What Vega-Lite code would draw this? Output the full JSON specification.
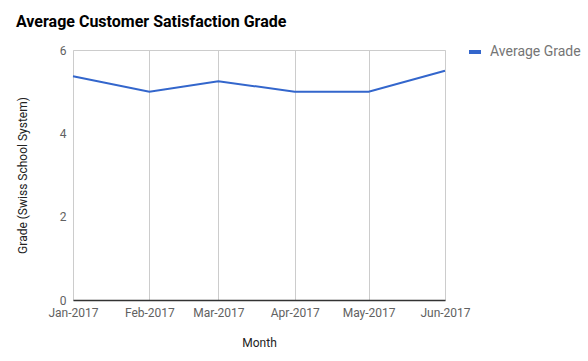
{
  "$schema": "https://vega.github.io/schema/vega-lite/v6.json",
  "width": 372,
  "height": 250,
  "autosize": {"type": "none"},
  "padding": {"left": 73, "top": 50, "right": 143, "bottom": 61},
  "background": "white",
  "title": {
    "text": "Average Customer Satisfaction Grade",
    "anchor": "start",
    "frame": "group",
    "dx": -57,
    "offset": 14,
    "font": "Roboto",
    "fontSize": 16,
    "fontWeight": "bold",
    "color": "#000000"
  },
  "data": {
    "values": [
      {"Month": "2017-01-01", "Grade": 5.37, "Series": "Average Grade"},
      {"Month": "2017-02-01", "Grade": 5.0, "Series": "Average Grade"},
      {"Month": "2017-03-01", "Grade": 5.25, "Series": "Average Grade"},
      {"Month": "2017-04-01", "Grade": 5.0, "Series": "Average Grade"},
      {"Month": "2017-05-01", "Grade": 5.0, "Series": "Average Grade"},
      {"Month": "2017-06-01", "Grade": 5.5, "Series": "Average Grade"}
    ]
  },
  "mark": {"type": "line", "strokeWidth": 2},
  "encoding": {
    "x": {
      "field": "Month",
      "type": "temporal",
      "title": "Month",
      "scale": {"type": "utc", "domain": [{"year": 2017, "month": 1, "date": 1, "utc": true}, {"year": 2017, "month": 6, "date": 1, "utc": true}], "nice": false},
      "axis": {
        "values": [
          {"year": 2017, "month": 1, "date": 1, "utc": true},
          {"year": 2017, "month": 2, "date": 1, "utc": true},
          {"year": 2017, "month": 3, "date": 1, "utc": true},
          {"year": 2017, "month": 4, "date": 1, "utc": true},
          {"year": 2017, "month": 5, "date": 1, "utc": true},
          {"year": 2017, "month": 6, "date": 1, "utc": true}
        ],
        "labelExpr": "utcFormat(datum.value, '%b-%Y')",
        "grid": true,
        "gridColor": "#cccccc",
        "ticks": false,
        "domainColor": "#333333",
        "domainWidth": 1.5,
        "labelFont": "Roboto",
        "labelFontSize": 12,
        "labelColor": "#616161",
        "labelPadding": 7,
        "labelFlush": false,
        "labelOverlap": false,
        "titleFont": "Roboto",
        "titleFontSize": 12,
        "titleFontWeight": "normal",
        "titleColor": "#222222",
        "titlePadding": 19
      }
    },
    "y": {
      "field": "Grade",
      "type": "quantitative",
      "title": "Grade (Swiss School System)",
      "scale": {"domain": [0, 6], "nice": false},
      "axis": {
        "values": [0, 2, 4, 6],
        "grid": false,
        "domain": false,
        "ticks": false,
        "labelFont": "Roboto",
        "labelFontSize": 12,
        "labelColor": "#616161",
        "labelPadding": 7,
        "titleFont": "Roboto",
        "titleFontSize": 12,
        "titleFontWeight": "normal",
        "titleColor": "#222222",
        "titlePadding": 30
      }
    },
    "color": {
      "field": "Series",
      "type": "nominal",
      "scale": {"range": ["#3366cc"]},
      "legend": {
        "title": null,
        "orient": "none",
        "legendX": 394,
        "legendY": -6,
        "symbolType": "stroke",
        "symbolSize": 144,
        "symbolStrokeWidth": 4,
        "labelFont": "Roboto",
        "labelFontSize": 14,
        "labelColor": "#757575",
        "labelOffset": 7
      }
    }
  },
  "config": {
    "view": {"stroke": "#cccccc"}
  }
}
